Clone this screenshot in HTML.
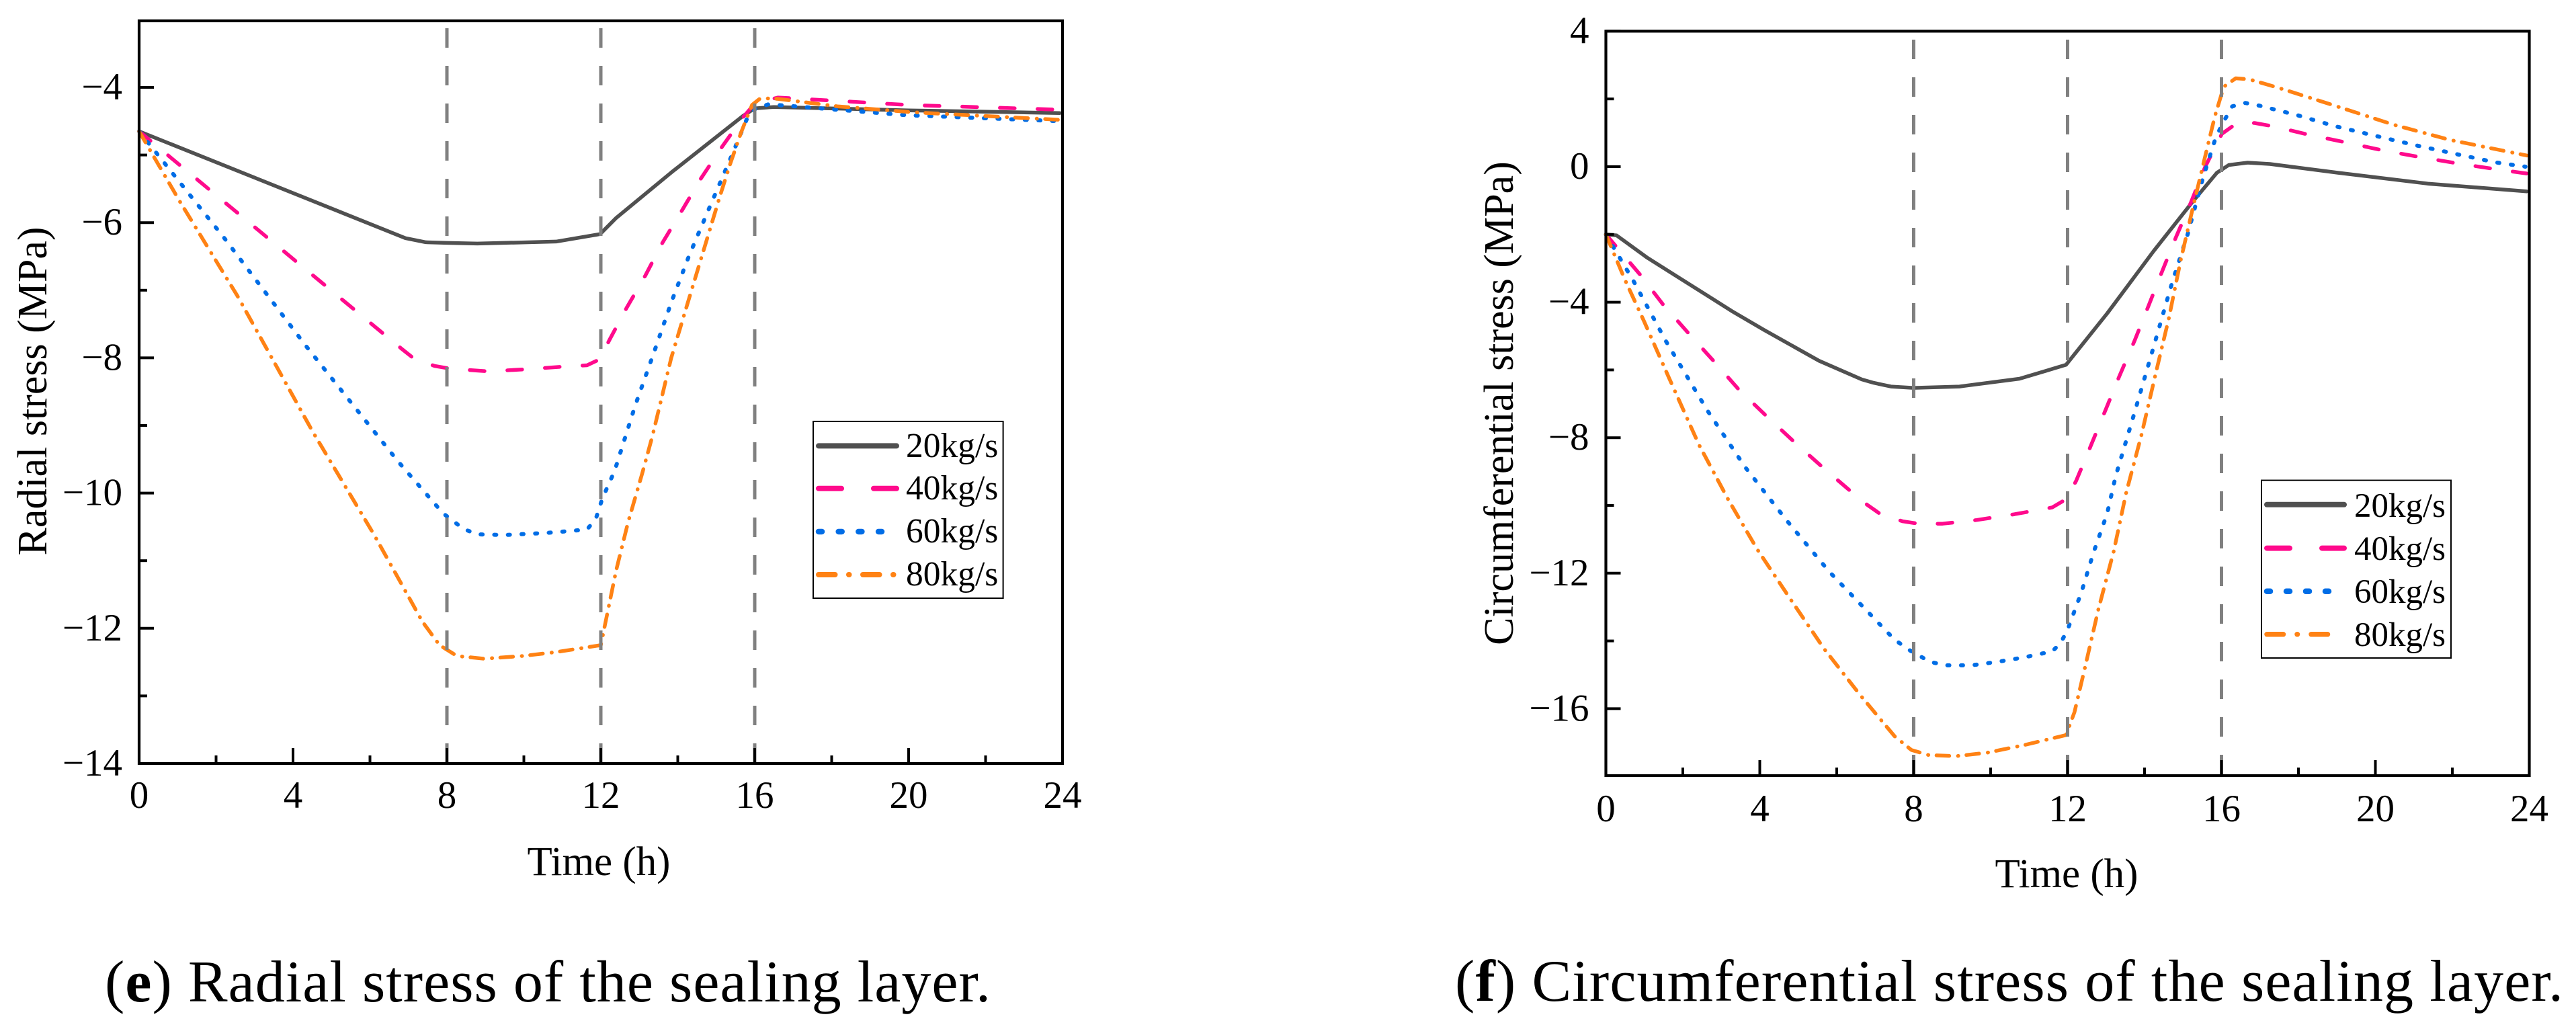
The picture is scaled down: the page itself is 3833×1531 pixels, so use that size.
<!DOCTYPE html>
<html lang="en">
<head>
<meta charset="utf-8">
<title>Radial and circumferential stress of the sealing layer</title>
<style>
html,body{margin:0;padding:0;background:#fff;}
svg{display:block;}
text{font-family:"Liberation Serif",serif;fill:#000;}
</style>
</head>
<body>
<svg id="figure" xmlns="http://www.w3.org/2000/svg" width="3833" height="1531" viewBox="0 0 3833 1531">
  <rect x="0" y="0" width="3833" height="1531" fill="#fff"/>

  <g id="panel-e">
    <g id="e-series"></g>
    <g id="e-guides"></g>
    <g id="e-ticks"></g>
    <rect x="207" y="31" width="1374" height="1105" fill="none" stroke="#000" stroke-width="4.2"/>
    <text x="891" y="1302" font-size="61" text-anchor="middle">Time (h)</text>
    <text transform="translate(69 582) rotate(-90)" font-size="62" text-anchor="middle">Radial stress (MPa)</text>
    <g>
      <rect x="1210" y="627" width="282.6" height="263" fill="#fff" stroke="#000" stroke-width="2"/>
      <line x1="1218" x2="1334" y1="663.4" y2="663.4" stroke="#505050" stroke-width="8" stroke-linecap="round"/>
      <line x1="1218" x2="1334" y1="726.8" y2="726.8" stroke="#ff0a8c" stroke-width="8" stroke-linecap="round" stroke-dasharray="34 48"/>
      <line x1="1218" x2="1312" y1="791" y2="791" stroke="#006de6" stroke-width="8.5" stroke-linecap="round" stroke-dasharray="5 24.7"/>
      <line x1="1218" x2="1330" y1="855" y2="855" stroke="#ff8214" stroke-width="8" stroke-linecap="round" stroke-dasharray="24.5 20.5 0.5 20.5"/>
      <text x="1348" y="680" font-size="51.5">20kg/s</text>
      <text x="1348" y="743" font-size="51.5">40kg/s</text>
      <text x="1348" y="807" font-size="51.5">60kg/s</text>
      <text x="1348" y="871" font-size="51.5">80kg/s</text>
    </g>
  </g>

  <g id="panel-f">
    <g id="f-series"></g>
    <g id="f-guides"></g>
    <g id="f-ticks"></g>
    <rect x="2389.5" y="46.4" width="1374" height="1107.6" fill="none" stroke="#000" stroke-width="4.2"/>
    <text x="3075" y="1320" font-size="61" text-anchor="middle">Time (h)</text>
    <text transform="translate(2251 600) rotate(-90)" font-size="62" text-anchor="middle">Circumferential stress (MPa)</text>
    <g>
      <rect x="3365" y="714.6" width="282" height="264.4" fill="#fff" stroke="#000" stroke-width="2"/>
      <line x1="3373" x2="3488" y1="750.8" y2="750.8" stroke="#505050" stroke-width="8" stroke-linecap="round"/>
      <line x1="3373" x2="3488" y1="815.6" y2="815.6" stroke="#ff0a8c" stroke-width="8" stroke-linecap="round" stroke-dasharray="34 48"/>
      <line x1="3373" x2="3466" y1="879.7" y2="879.7" stroke="#006de6" stroke-width="8.5" stroke-linecap="round" stroke-dasharray="5 24"/>
      <line x1="3373" x2="3484" y1="943.8" y2="943.8" stroke="#ff8214" stroke-width="7.5" stroke-linecap="round" stroke-dasharray="24.5 20.5 0.5 20.5"/>
      <text x="3503" y="769" font-size="51">20kg/s</text>
      <text x="3503" y="833" font-size="51">40kg/s</text>
      <text x="3503" y="897" font-size="51">60kg/s</text>
      <text x="3503" y="961" font-size="51">80kg/s</text>
    </g>
  </g>

  <text x="156" y="1490" font-size="88" textLength="1318" lengthAdjust="spacing">(<tspan font-weight="bold">e</tspan>) Radial stress of the sealing layer.</text>
  <text x="2165" y="1489" font-size="88" textLength="1649" lengthAdjust="spacing">(<tspan font-weight="bold">f</tspan>) Circumferential stress of the sealing layer.</text>
</svg>

<script>
// ---- Shared axis data ----
const xMajorTicks = [0, 4, 8, 12, 16, 20, 24];
const xMinorTicks = [2, 6, 10, 14, 18, 22];
const guideTimes = [8, 12, 16];
const seriesNames = ['20kg/s', '40kg/s', '60kg/s', '80kg/s'];

// ---- Panel (e): radial stress ----
const eYMajorTicks = [-4, -6, -8, -10, -12, -14];
const eYMinorTicks = [-5, -7, -9, -11, -13];
const eTime20 = [0, 6.92, 7.45, 8, 8.79, 10.84, 11.98, 12.4, 13.85, 15.7, 16, 16.5, 20, 23.93];
const eStress20 = [-4.65, -6.23, -6.29, -6.30, -6.31, -6.28, -6.17, -5.93, -5.25, -4.42, -4.31, -4.29, -4.34, -4.38];
const eTime40 = [0, 1.08, 6.83, 7.14, 7.68, 8.08, 9.06, 10.04, 11.02, 11.64, 11.98, 12.22, 12.67, 13.16, 13.6, 14.12, 14.6, 15.15, 15.7, 16, 16.6, 20, 23.93];
const eStress40 = [-4.65, -5.16, -7.87, -8.01, -8.12, -8.16, -8.2, -8.17, -8.13, -8.11, -8.02, -7.74, -7.26, -6.78, -6.3, -5.81, -5.35, -4.88, -4.44, -4.24, -4.15, -4.26, -4.33];
const eTime60 = [0, 2.2, 4.33, 6.74, 7.9, 8.43, 8.79, 9.5, 10.57, 11.64, 11.87, 12.04, 12.36, 12.89, 13.43, 13.83, 14.3, 14.86, 15.43, 15.8, 16.03, 16.36, 17.04, 19.9, 23.93];
const eStress60 = [-4.65, -6.22, -7.82, -9.54, -10.3, -10.53, -10.61, -10.62, -10.59, -10.54, -10.38, -10.08, -9.67, -8.71, -7.84, -7.18, -6.48, -5.73, -4.97, -4.46, -4.31, -4.25, -4.28, -4.41, -4.5];
const eTime80 = [0, 1.04, 2.55, 4.51, 6.12, 7.36, 7.81, 8.26, 8.97, 9.97, 10.86, 12, 12.18, 12.4, 12.71, 13.07, 13.34, 13.51, 13.83, 14.2, 14.65, 15.1, 15.37, 15.65, 15.93, 16.15, 16.6, 18.15, 20.15, 23.93];
const eStress80 = [-4.65, -5.67, -7.08, -9.09, -10.63, -11.9, -12.25, -12.41, -12.45, -12.41, -12.35, -12.25, -11.75, -11.14, -10.43, -9.72, -9.16, -8.76, -8.0, -7.3, -6.45, -5.6, -5.12, -4.66, -4.26, -4.16, -4.17, -4.28, -4.37, -4.48];

// ---- Panel (f): circumferential stress ----
const fYMajorTicks = [4, 0, -4, -8, -12, -16];
const fYMinorTicks = [2, -2, -6, -10, -14];
const fTime20 = [0, 0.28, 1.08, 1.93, 3.27, 4.11, 5.54, 6.65, 6.96, 7.41, 7.99, 9.19, 10.75, 11.96, 13.03, 14.23, 15.21, 15.88, 16.19, 16.68, 17.26, 17.8, 19.04, 21.36, 22.25, 23.93];
const fStress20 = [-2.0, -2.03, -2.69, -3.3, -4.26, -4.82, -5.73, -6.28, -6.38, -6.49, -6.53, -6.49, -6.26, -5.85, -4.33, -2.5, -1.09, -0.18, 0.05, 0.12, 0.08, 0, -0.18, -0.5, -0.58, -0.73];
const fTime40 = [0, 0.9, 1.48, 2.15, 2.82, 3.44, 4.16, 4.9, 5.63, 6.38, 6.79, 7.14, 7.72, 8.12, 8.75, 9.64, 10.62, 11.6, 11.96, 12.22, 12.6, 12.98, 13.34, 13.74, 14.1, 14.45, 14.81, 15.21, 15.57, 15.79, 16.01, 16.37, 16.86, 17.35, 18.28, 19.26, 20.2, 21.18, 22.12, 23.1, 23.93];
const fStress40 = [-2.0, -3.2, -4.06, -4.92, -5.76, -6.56, -7.35, -8.13, -8.87, -9.6, -9.98, -10.26, -10.47, -10.54, -10.54, -10.43, -10.26, -10.06, -9.82, -9.28, -8.25, -7.2, -6.2, -5.14, -4.12, -3.11, -2.1, -1.04, -0.02, 0.48, 0.97, 1.26, 1.29, 1.19, 0.94, 0.71, 0.48, 0.28, 0.1, -0.07, -0.2];
const fTime60 = [0, 0.73, 1.57, 2.64, 3.62, 4.69, 5.8, 6.79, 7.5, 7.9, 8.43, 8.84, 9.5, 10.17, 10.89, 11.6, 11.82, 12, 12.36, 12.67, 13.03, 13.25, 13.74, 14.23, 14.72, 15.12, 15.52, 15.83, 16.01, 16.28, 16.62, 16.99, 17.97, 18.97, 20, 21.05, 22.07, 23.1, 23.9];
const fStress60 = [-2.0, -3.4, -5.17, -7.2, -8.87, -10.43, -11.95, -13.12, -13.96, -14.28, -14.62, -14.72, -14.72, -14.62, -14.48, -14.31, -14.06, -13.67, -12.56, -11.4, -10.23, -9.13, -7.26, -5.34, -3.41, -2.0, -0.33, 0.79, 1.24, 1.78, 1.88, 1.8, 1.52, 1.19, 0.91, 0.63, 0.38, 0.13, 0];
const fTime80 = [0, 0.5, 0.99, 1.62, 2.42, 3.18, 3.93, 4.78, 5.67, 6.61, 7.5, 7.94, 8.39, 9.1, 9.91, 10.89, 11.96, 12.18, 12.45, 12.8, 13.2, 13.52, 13.92, 14.27, 14.63, 14.94, 15.25, 15.57, 15.83, 16.06, 16.37, 16.72, 17.48, 18.95, 20.47, 21.94, 23.94];
const fStress80 = [-2.0, -3.35, -4.56, -6.18, -8.21, -9.83, -11.29, -12.74, -14.23, -15.6, -16.81, -17.22, -17.37, -17.4, -17.3, -17.07, -16.78, -16.1, -14.79, -13.07, -11.35, -9.64, -7.92, -6.2, -4.48, -2.76, -1.24, 0.28, 1.5, 2.36, 2.61, 2.58, 2.33, 1.8, 1.24, 0.79, 0.33];

// ---- Axis functions ----
function xE(t) { return 207 + t * 57.25; }
function yE(v) { return 130 + (-4 - v) * 100.6; }
function xF(t) { return 2389.5 + t * 57.25; }
function yF(v) { return 248 + (0 - v) * 50.4; }

const NS = 'http://www.w3.org/2000/svg';
const seriesColors = ['#505050', '#ff0a8c', '#006de6', '#ff8214'];
const seriesWidths = [5.5, 5.5, 6, 5.5];
const seriesDashes = ['', '22 34', '3 17.3', '19 13 0.5 12.1'];

function makeLine(parent, x1, y1, x2, y2, color, width) {
  const el = document.createElementNS(NS, 'line');
  el.setAttribute('x1', x1);
  el.setAttribute('y1', y1);
  el.setAttribute('x2', x2);
  el.setAttribute('y2', y2);
  el.setAttribute('stroke', color);
  el.setAttribute('stroke-width', width);
  parent.appendChild(el);
  return el;
}

function makeText(parent, x, y, anchor, content) {
  const el = document.createElementNS(NS, 'text');
  el.setAttribute('x', x);
  el.setAttribute('y', y);
  el.setAttribute('text-anchor', anchor);
  el.setAttribute('font-size', '57');
  el.textContent = content;
  parent.appendChild(el);
  return el;
}

function labelFor(v) {
  return String(v).replace('-', '\u2212');
}

function drawSeries(prefix, xFn, yFn, times, values) {
  const group = document.getElementById(prefix + '-series');
  times.forEach(function (tArr, i) {
    const pts = tArr.map(function (t, k) {
      return xFn(t).toFixed(1) + ',' + yFn(values[i][k]).toFixed(1);
    }).join(' ');
    const poly = document.createElementNS(NS, 'polyline');
    poly.setAttribute('points', pts);
    poly.setAttribute('fill', 'none');
    poly.setAttribute('stroke', seriesColors[i]);
    poly.setAttribute('stroke-width', seriesWidths[i]);
    poly.setAttribute('stroke-linejoin', 'round');
    poly.setAttribute('stroke-linecap', 'round');
    if (seriesDashes[i]) poly.setAttribute('stroke-dasharray', seriesDashes[i]);
    
    
    group.appendChild(poly);
  });
}

function drawGuides(prefix, xFn, yTop, yBottom) {
  const group = document.getElementById(prefix + '-guides');
  guideTimes.forEach(function (t) {
    const el = makeLine(group, xFn(t), yTop, xFn(t), yBottom, '#808080', 5);
    el.setAttribute('stroke-dasharray', '29 27');
    
    
  });
}

function drawTicks(prefix, xFn, yFn, xBase, yBase, yMajor, yMinor, xLabelY) {
  const group = document.getElementById(prefix + '-ticks');
  xMajorTicks.forEach(function (t) {
    if (t > 0 && t < 24) {
      const tick = makeLine(group, xFn(t), yBase, xFn(t), yBase - 23, '#000', 4);
      
      
    }
    const lab = makeText(group, xFn(t), xLabelY, 'middle', labelFor(t));
    
    
  });
  xMinorTicks.forEach(function (t) {
    const tick = makeLine(group, xFn(t), yBase, xFn(t), yBase - 12, '#000', 4);
    
    
  });
  yMajor.forEach(function (v) {
    const tick = makeLine(group, xBase, yFn(v), xBase + 22, yFn(v), '#000', 4);
    
    
    const lab = makeText(group, xBase - 25, yFn(v) + 18, 'end', labelFor(v));
    
    
  });
  yMinor.forEach(function (v) {
    const tick = makeLine(group, xBase, yFn(v), xBase + 12, yFn(v), '#000', 4);
    
    
  });
}

drawSeries('e', xE, yE, [eTime20, eTime40, eTime60, eTime80], [eStress20, eStress40, eStress60, eStress80]);
drawGuides('e', xE, 42, 1136);
drawTicks('e', xE, yE, 207, 1136, eYMajorTicks, eYMinorTicks, 1202);

drawSeries('f', xF, yF, [fTime20, fTime40, fTime60, fTime80], [fStress20, fStress40, fStress60, fStress80]);
drawGuides('f', xF, 59, 1154);
drawTicks('f', xF, yF, 2389.5, 1154, fYMajorTicks, fYMinorTicks, 1222);
</script>
</body>
</html>
